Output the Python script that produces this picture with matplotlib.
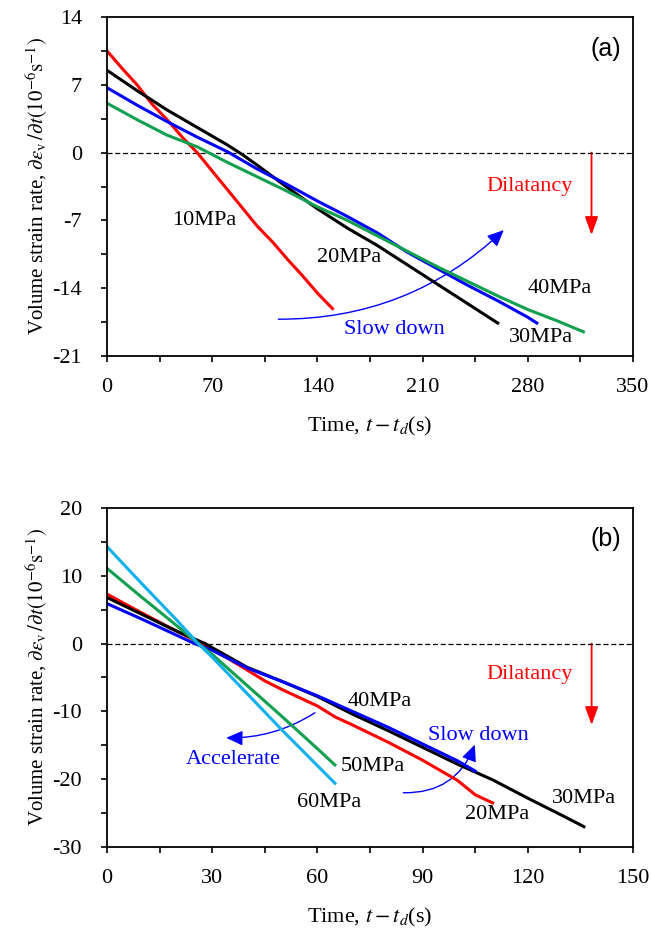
import numpy as np
import matplotlib
matplotlib.use("Agg")
import matplotlib.pyplot as plt
from matplotlib.patches import FancyArrowPatch
from matplotlib.ticker import MultipleLocator

plt.rcParams['font.family'] = ['Liberation Serif', 'DejaVu Serif']
plt.rcParams['mathtext.fontset'] = 'stix'
plt.rcParams['axes.unicode_minus'] = False

# panel (a) data
a_10_x = [0, 10, 20, 30, 40, 50, 60, 70, 80, 90, 100, 110, 120, 130, 140, 150]
a_10_y = [10.5, 8.7, 7.0, 5.0, 3.4, 1.6, 0.0, -1.9, -3.8, -5.7, -7.6, -9.2, -11.0, -12.7, -14.5, -16.1]
a_30_x = [0, 20, 40, 60, 80, 90, 100, 120, 140, 160, 180, 200, 220, 240, 260]
a_30_y = [8.5, 6.4, 4.4, 2.6, 0.8, -0.2, -1.3, -3.6, -5.8, -7.8, -9.6, -11.6, -13.6, -15.6, -17.6]
a_20_x = [0, 20, 40, 60, 80, 100, 120, 140, 160, 180, 200, 220, 240, 260, 280, 286]
a_20_y = [6.7, 4.9, 3.2, 1.6, 0.1, -1.7, -3.3, -5.0, -6.6, -8.3, -10.3, -12.0, -13.7, -15.3, -17.0, -17.6]
a_40_x = [0, 20, 40, 60, 80, 100, 120, 140, 160, 180, 200, 220, 240, 260, 280, 300, 317]
a_40_y = [5.1, 3.4, 1.8, 0.6, -1.0, -2.5, -4.0, -5.6, -7.0, -8.6, -10.2, -11.8, -13.3, -14.8, -16.2, -17.4, -18.5]

# panel (b) data
b_60_x = [0, 10, 20, 26, 30, 40, 50, 60, 65]
b_60_y = [14.3, 8.8, 3.4, 0.0, -2.0, -7.4, -12.8, -18.0, -20.6]
b_50_x = [0, 10, 20, 26, 30, 40, 50, 60, 65]
b_50_y = [11.1, 6.8, 2.6, 0.0, -1.6, -6.2, -10.8, -15.5, -17.9]
b_20_x = [0, 10, 20, 27, 30, 40, 45, 50, 60, 65, 70, 80, 90, 100, 105, 110]
b_20_y = [7.3, 4.5, 1.8, 0.0, -0.8, -3.9, -5.5, -6.8, -9.2, -10.8, -12.0, -14.5, -17.2, -20.2, -22.3, -23.5]
b_30_x = [0, 10, 20, 28, 30, 40, 50, 60, 70, 80, 90, 100, 110, 120, 130, 136]
b_30_y = [6.8, 4.3, 1.8, 0.0, -0.6, -3.5, -5.6, -7.8, -10.4, -12.8, -15.3, -17.8, -20.1, -22.8, -25.4, -27.0]
b_40_x = [0, 10, 20, 25, 30, 40, 50, 60, 70, 80, 90, 100, 105]
b_40_y = [5.9, 3.6, 1.2, 0.0, -1.0, -3.6, -5.6, -7.7, -10.0, -12.3, -14.8, -17.3, -18.8]

red = '#ff0000'
blue = '#0000ff'
green = '#12a050'
cyan = '#10b0ee'

fig = plt.figure(figsize=(6.51, 9.32), dpi=100)
ax1 = fig.add_axes([107/651, 1-356/932, 526/651, 339/932])
ax2 = fig.add_axes([107/651, 1-847/932, 526/651, 339/932])

ylab = r'Volume strain rate, $\partial\varepsilon_{\rm v}\,/\partial t(10^{-6}{\rm s}^{-1})$'
xlab = r'Time, $t-t_d$(s)'
fs = 16


def style(ax, xmax, xmaj, ymin, ymax, ymaj, ymin_step):
    ax.set_xlim(0, xmax)
    ax.set_ylim(ymin, ymax)
    ax.xaxis.set_major_locator(MultipleLocator(xmaj))
    ax.xaxis.set_minor_locator(MultipleLocator(xmaj / 2))
    ax.yaxis.set_major_locator(MultipleLocator(ymaj))
    ax.yaxis.set_minor_locator(MultipleLocator(ymin_step))
    ax.tick_params(which='both', direction='out', length=4, width=1.2, labelsize=fs)
    ax.tick_params(axis='x', pad=12)
    ax.tick_params(axis='y', pad=14)
    for s in ax.spines.values():
        s.set_linewidth(1.3)
    ax.axhline(0, color='black', lw=0.9, ls=(0, (4, 2.2)))
    ax.set_ylabel(ylab, fontsize=15, labelpad=2)
    ax.set_xlabel(xlab, fontsize=fs, labelpad=13)


def arrow(ax, p0, p1, col, rad=0.0, hl=10, hw=4.5, lw=1.0):
    ax.add_patch(FancyArrowPatch(p0, p1, connectionstyle='arc3,rad=%g' % rad,
                                 arrowstyle='-|>,head_length=%g,head_width=%g' % (hl, hw),
                                 color=col, lw=lw, shrinkA=0, shrinkB=0))


# (a)
style(ax1, 350, 70, -21, 14, 7, 3.5)
ax1.plot(a_10_x, a_10_y, color=red, lw=2.2)
ax1.plot(a_30_x, a_30_y, color='black', lw=2.2)
ax1.plot(a_20_x, a_20_y, color=blue, lw=2.2)
ax1.plot(a_40_x, a_40_y, color=green, lw=2.2)
ax1.text(65, -7.0, '10MPa', fontsize=fs, ha='center', va='center')
ax1.text(161, -10.8, '20MPa', fontsize=fs, ha='center', va='center')
ax1.text(301, -14.0, '40MPa', fontsize=fs, ha='center', va='center')
ax1.text(289, -19.1, '30MPa', fontsize=fs, ha='center', va='center')
ax1.text(191, -18.3, 'Slow down', fontsize=fs, color=blue, ha='center', va='center')
ax1.text(281, -3.5, 'Dilatancy', fontsize=fs, color=red, ha='center', va='center')
ax1.text(0.978, 0.905, '(a)', transform=ax1.transAxes, fontsize=18,
         family='Liberation Sans', ha='right', va='center')
arrow(ax1, (322.4, 0), (322.4, -8.5), red, hl=11, hw=4, lw=1.3)
arrow(ax1, (114, -17.2), (264, -8.0), blue, rad=0.2)

# (b)
style(ax2, 150, 30, -30, 20, 10, 5)
ax2.plot(b_20_x, b_20_y, color=red, lw=2.2)
ax2.plot(b_30_x, b_30_y, color='black', lw=2.2)
ax2.plot(b_40_x, b_40_y, color=blue, lw=2.2)
ax2.plot(b_50_x, b_50_y, color=green, lw=2.2)
ax2.plot(b_60_x, b_60_y, color=cyan, lw=2.2)
ax2.text(77.7, -8.5, '40MPa', fontsize=fs, ha='center', va='center')
ax2.text(75.7, -18.2, '50MPa', fontsize=fs, ha='center', va='center')
ax2.text(63.3, -23.5, '60MPa', fontsize=fs, ha='center', va='center')
ax2.text(111.3, -25.2, '20MPa', fontsize=fs, ha='center', va='center')
ax2.text(136, -22.8, '30MPa', fontsize=fs, ha='center', va='center')
ax2.text(106, -13.6, 'Slow down', fontsize=fs, color=blue, ha='center', va='center')
ax2.text(36, -17.1, 'Accelerate', fontsize=fs, color=blue, ha='center', va='center')
ax2.text(120.5, -4.6, 'Dilatancy', fontsize=fs, color=red, ha='center', va='center')
ax2.text(0.978, 0.91, '(b)', transform=ax2.transAxes, fontsize=18,
         family='Liberation Sans', ha='right', va='center')
arrow(ax2, (138.2, 0), (138.2, -12), red, hl=11, hw=4, lw=1.3)
arrow(ax2, (59.3, -10.2), (34, -13.9), blue, rad=-0.15)
arrow(ax2, (84.5, -22.0), (104.9, -14.9), blue, rad=0.35)

fig.savefig('out.png', dpi=100)
